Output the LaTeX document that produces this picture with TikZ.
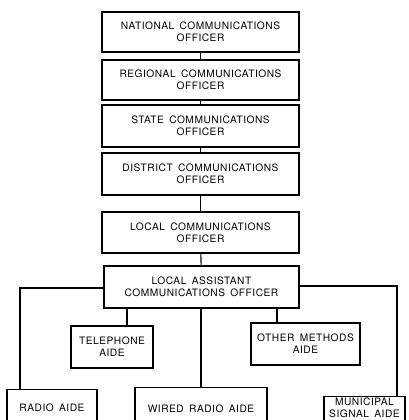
\documentclass[tikz,border=0pt]{standalone}
\usepackage{fontspec}
\setmainfont{TeX Gyre Heros}[LetterSpace=5,WordSpace=1.6]
\begin{document}
\begin{tikzpicture}[x=1pt,y=-1pt,
  box/.style={draw=black,line width=1.1pt,fill=white,align=center,inner sep=0pt,
    font=\fontsize{10.2}{12}\selectfont},
  lbl/.style={align=center,inner sep=0pt,font=\fontsize{10.2}{12}\selectfont},
  link/.style={draw=black,line width=1.1pt}]
\useasboundingbox (0,0) rectangle (408,420);
\clip (0,0) rectangle (408,420);
\fill[white] (0,0) rectangle (408,420);
% main chain
\node[box,minimum width=197pt,minimum height=40pt] (nat) at (200.5,32) {NATIONAL COMMUNICATIONS\\OFFICER};
\node[box,minimum width=197pt,minimum height=40pt] (reg) at (200.5,80) {REGIONAL COMMUNICATIONS\\OFFICER};
\node[box,minimum width=197pt,minimum height=42pt] (sta) at (200.5,126) {STATE COMMUNICATIONS\\OFFICER};
\node[box,minimum width=197pt,minimum height=42pt] (dis) at (200.5,174) {DISTRICT COMMUNICATIONS\\OFFICER};
\node[box,minimum width=197pt,minimum height=41pt] (loc) at (200.5,232.5) {LOCAL COMMUNICATIONS\\OFFICER};
\node[box,minimum width=195pt,minimum height=42pt] (asst) at (201.5,287) {LOCAL ASSISTANT\\COMMUNICATIONS OFFICER};
% middle aides
\node[box,minimum width=82pt,minimum height=42pt] (tel) at (112,347) {TELEPHONE\\AIDE};
\node[box,minimum width=109pt,minimum height=42pt] (oth) at (305.5,344) {OTHER METHODS\\AIDE};
% bottom aides (run off the page)
\node[box,minimum width=90pt,minimum height=60pt,anchor=north] (rad) at (52,389) {};
\node[lbl] (radt) at (52,408) {RADIO AIDE};
\node[box,minimum width=132pt,minimum height=60pt,anchor=north] (wir) at (201,387) {};
\node[lbl] (wirt) at (201,409) {WIRED RADIO AIDE};
\node[box,minimum width=81pt,minimum height=60pt,anchor=north] (mun) at (364.5,396) {};
\node[lbl] (munt) at (364.5,407.5) {MUNICIPAL\\SIGNAL AIDE};
% coordinates for branches
\coordinate (lc) at (20,288);
\coordinate (rc) at (397,286);
\coordinate (tj) at (127,0);
\coordinate (oj) at (277,0);
% connectors
\draw[link] (nat) -- (reg);
\draw[link] (reg) -- (sta);
\draw[link] (sta) -- (dis);
\draw[link] (dis) -- (loc);
\draw[link] (loc) -- (asst);
\draw[link] (asst.west |- lc) -- (lc) -- (lc |- rad.north);
\draw[link] (asst.east |- rc) -- (rc) -- (rc |- mun.north);
\draw[link] (asst.south -| tj) -- (tel.north -| tj);
\draw[link] (asst.south -| wir) -- (wir.north);
\draw[link] (asst.south -| oj) -- (oth.north -| oj);
\end{tikzpicture}
\end{document}
